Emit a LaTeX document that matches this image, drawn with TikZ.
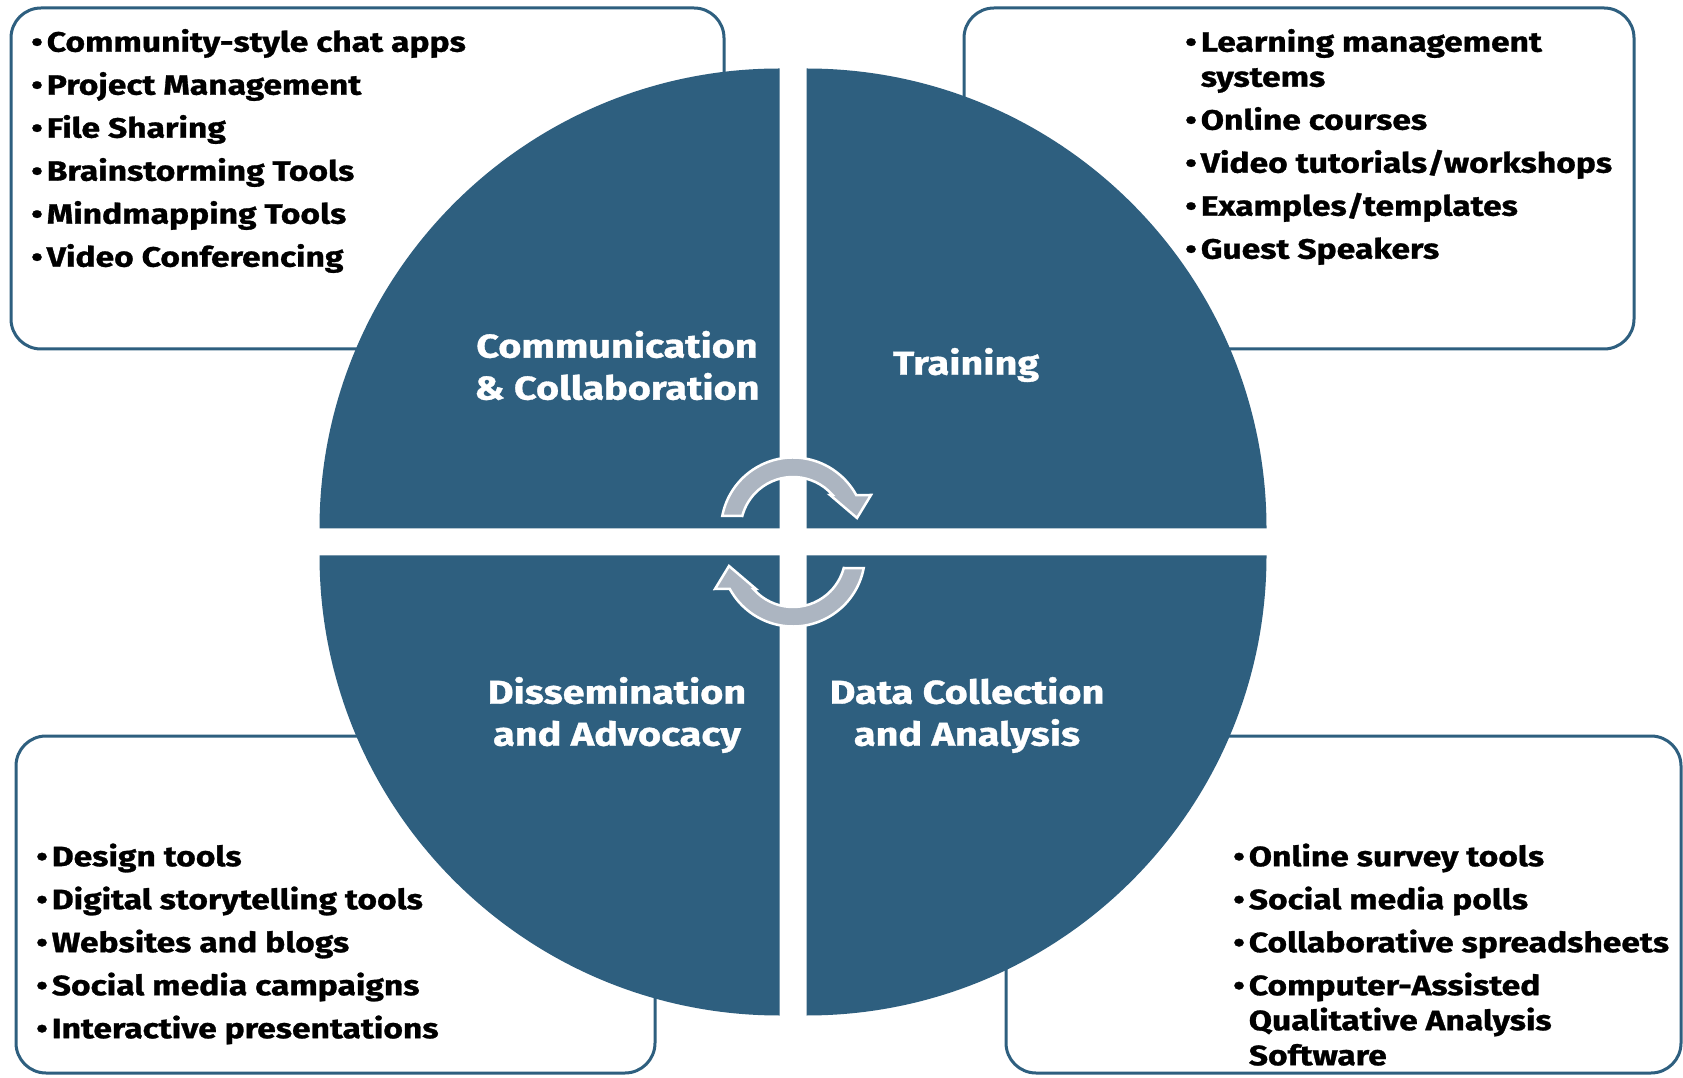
\documentclass[tikz,border=0pt]{standalone}
\usepackage{fontspec}
\setmainfont{Fira Sans}[BoldFeatures={FakeStretch=1.2,FakeBold=1}]
\usetikzlibrary{calc}
\definecolor{wheelblue}{RGB}{46,95,127}
\definecolor{arrowgray}{RGB}{172,181,193}
\def\cyclearrow{(169.1:72) arc (169.1:28.6:72) -- (78,34.5) -- (64,11.5) -- (37,34.5) -- (41.2:52.5) arc (41.2:165.1:52.5) -- cycle}
\tikzset{
  toolbox/.style={draw=wheelblue,line width=3,rounded corners=30},
  toollist/.style={anchor=north west,inner sep=0,font=\bfseries\fontsize{28}{35}\selectfont},
  quadlabel/.style={text=white,align=center,inner sep=0,font=\bfseries\fontsize{33}{42}\selectfont},
  turnarrow/.style={fill=arrowgray,draw=white,line width=2.5,line join=miter}
}
\begin{document}
\begin{tikzpicture}[x=1pt,y=1pt]
\useasboundingbox[fill=white] (0,0) rectangle (1683,1077);
% boxes behind the wheel
\draw[toolbox] (11,1069) rectangle (724,728);
\draw[toolbox] (964,1069) rectangle (1634,728);
\draw[toolbox] (16,341) rectangle (655,4);
\draw[toolbox] (1006,341) rectangle (1681,4);
% four quarters
\fill[wheelblue] (806.5,548.5) -- ++(460,0) arc (0:90:460) -- cycle;
\fill[wheelblue] (779.5,548.5) -- ++(0,460) arc (90:180:460) -- cycle;
\fill[wheelblue] (779.5,521.5) -- ++(-460,0) arc (180:270:460) -- cycle;
\fill[wheelblue] (806.5,521.5) -- ++(0,-460) arc (270:360:460) -- cycle;
\node[quadlabel] (comm) at (617,711.5) {Communication\\\& Collaboration};
\node[quadlabel] (train) at (966,712) {Training};
\node[quadlabel] (dissem) at (617,362) {Dissemination\\and Advocacy};
\node[quadlabel] (data) at (967,362) {Data Collection\\and Analysis};
% arrows in the middle
\begin{scope}[shift={(793,547.5)}]
\filldraw[turnarrow] \cyclearrow;
\end{scope}
\begin{scope}[shift={(793,522.5)},rotate=180]
\filldraw[turnarrow] \cyclearrow;
\end{scope}
% lists
\node[toollist] (commtools) at (31,1050) {\begin{tabular}{@{}l@{\hspace{4pt}}l@{}}
\textbullet & Community-style chat apps\\[8pt]
\textbullet & Project Management\\[8pt]
\textbullet & File Sharing\\[8pt]
\textbullet & Brainstorming Tools\\[8pt]
\textbullet & Mindmapping Tools\\[8pt]
\textbullet & Video Conferencing
\end{tabular}};
\node[toollist] (traintools) at (1185,1050) {\begin{tabular}{@{}l@{\hspace{4pt}}l@{}}
\textbullet & Learning management\\
 & systems\\[8pt]
\textbullet & Online courses\\[8pt]
\textbullet & Video tutorials/workshops\\[8pt]
\textbullet & Examples/templates\\[8pt]
\textbullet & Guest Speakers
\end{tabular}};
\node[toollist] (dissemtools) at (36,235.5) {\begin{tabular}{@{}l@{\hspace{4pt}}l@{}}
\textbullet & Design tools\\[8pt]
\textbullet & Digital storytelling tools\\[8pt]
\textbullet & Websites and blogs\\[8pt]
\textbullet & Social media campaigns\\[8pt]
\textbullet & Interactive presentations
\end{tabular}};
\node[toollist] (datatools) at (1233,235.5) {\begin{tabular}{@{}l@{\hspace{4pt}}l@{}}
\textbullet & Online survey tools\\[8pt]
\textbullet & Social media polls\\[8pt]
\textbullet & Collaborative spreadsheets\\[8pt]
\textbullet & Computer-Assisted\\
 & Qualitative Analysis\\
 & Software
\end{tabular}};
\end{tikzpicture}
\end{document}
